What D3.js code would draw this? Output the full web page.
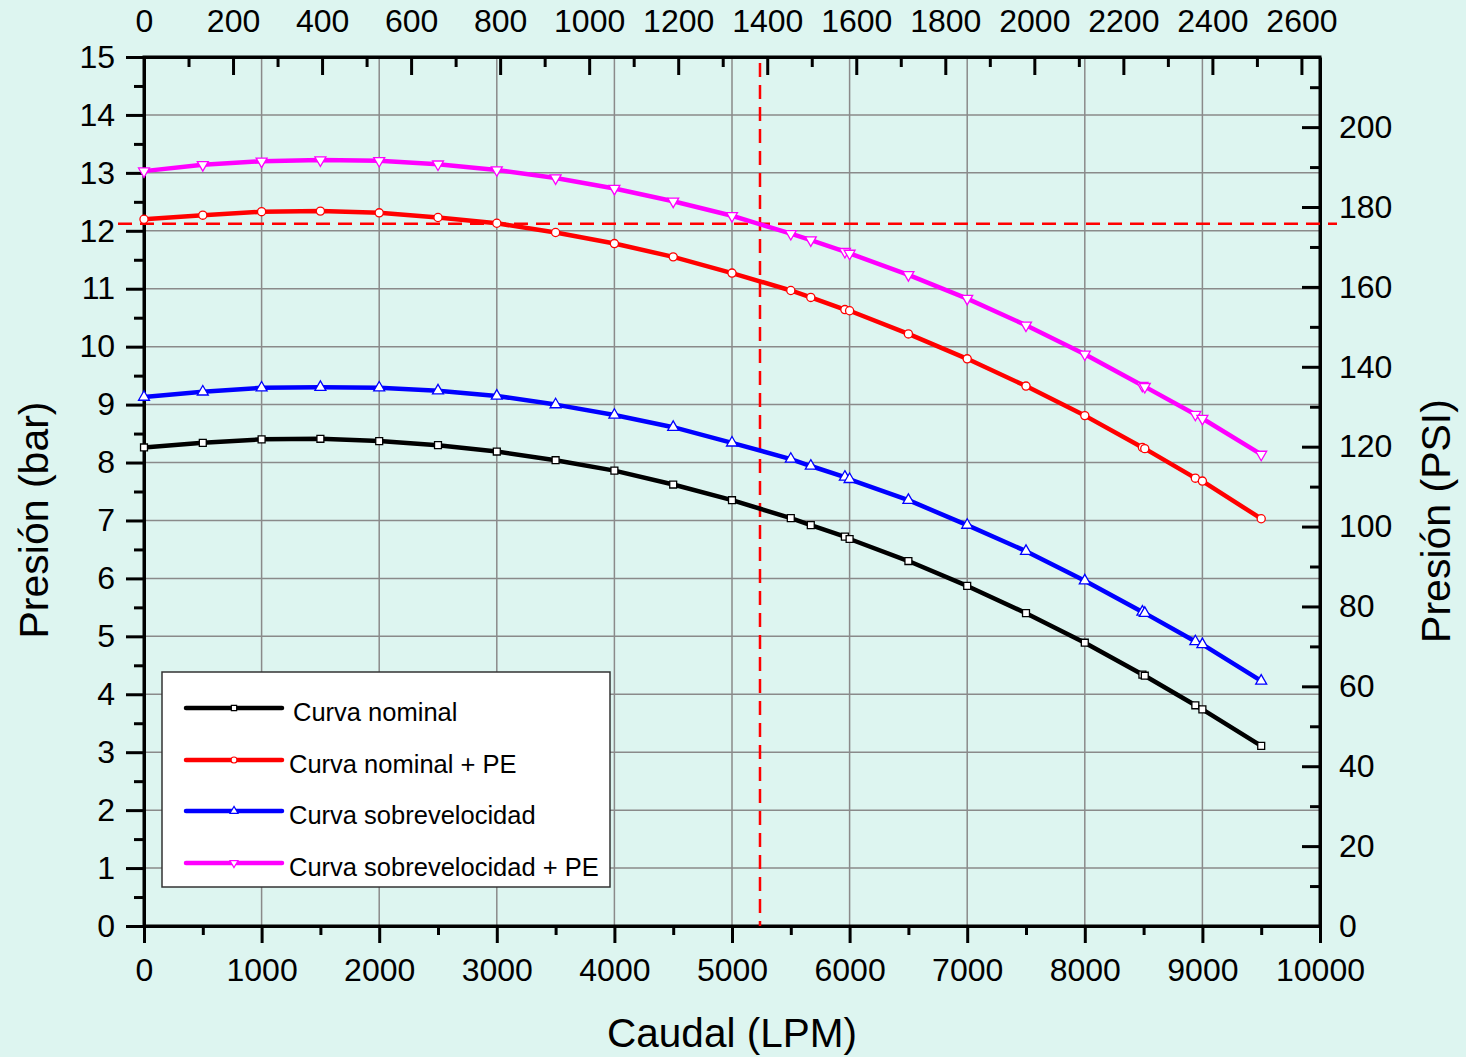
<!DOCTYPE html>
<html>
<head>
<meta charset="utf-8">
<script src="https://cdn.jsdelivr.net/npm/d3@7"></script>
<style>
  html, body { margin: 0; padding: 0; background: #ddf5f0; }
  #chart { width: 1466px; height: 1057px; }
  text { font-family: "Liberation Sans", Arial, sans-serif; fill: #000; }
</style>
</head>
<body>
<div id="chart"></div>
<script>
// caudal (LPM) en cada punto medido
const flowLPM = [0, 500, 1000, 1500, 2000, 2500, 3000, 3500, 4000, 4500, 5000, 5500,
    5670, 5960, 6000, 6500, 7000, 7500, 8000, 8490, 8510, 8940, 9000, 9500];

// presión (bar)
const nominal = [8.26, 8.34, 8.40, 8.41, 8.37, 8.30, 8.19, 8.04, 7.86, 7.62, 7.35, 7.04,
    6.92, 6.72, 6.68, 6.30, 5.87, 5.40, 4.89, 4.34, 4.32, 3.81, 3.74, 3.11];
const nominalPE = [12.20, 12.27, 12.33, 12.34, 12.31, 12.23, 12.13, 11.97, 11.78, 11.55, 11.27, 10.97,
    10.85, 10.64, 10.62, 10.22, 9.79, 9.32, 8.81, 8.26, 8.24, 7.73, 7.68, 7.03];
const sobre = [9.13, 9.22, 9.29, 9.30, 9.29, 9.24, 9.15, 9.00, 8.82, 8.61, 8.34, 8.06,
    7.94, 7.75, 7.71, 7.35, 6.92, 6.47, 5.96, 5.42, 5.40, 4.91, 4.86, 4.23];
const sobrePE = [13.03, 13.14, 13.20, 13.22, 13.21, 13.15, 13.05, 12.91, 12.73, 12.51, 12.26, 11.95,
    11.84, 11.64, 11.61, 11.24, 10.83, 10.37, 9.87, 9.33, 9.31, 8.83, 8.76, 8.14];

const seriesNames = ["Curva nominal", "Curva nominal + PE", "Curva sobrevelocidad", "Curva sobrevelocidad + PE"];
const seriesValues = [nominal, nominalPE, sobre, sobrePE];
const seriesColors = ["#000000", "#ff0000", "#0000ff", "#ff00ff"];
const seriesSymbols = ["square", "circle", "up", "down"];

// líneas de referencia
const refFlow = 5238;
const refPressure = 12.12;

const LPM_PER_GPM = 3.78541;
const PSI_PER_BAR = 14.5038;

const width = 1466, height = 1057;
const margin = {top: 57, right: 146, bottom: 131, left: 144};

const svg = d3.select("#chart").append("svg")
    .attr("width", width)
    .attr("height", height);

const x = d3.scaleLinear().domain([0, 10000]).range([margin.left, width - margin.right]);
const y = d3.scaleLinear().domain([0, 15]).range([height - margin.bottom, margin.top]);
const xTop = d3.scaleLinear().domain([0, 10000 / LPM_PER_GPM]).range(x.range());
const yRight = d3.scaleLinear().domain([0, 15 * PSI_PER_BAR]).range(y.range());

const fmt = d3.format("d");

// grid
const grid = svg.append("g").attr("stroke", "#8a8a8a").attr("stroke-width", 1.5);
grid.selectAll(".gx").data(d3.range(1000, 10000, 1000)).join("line")
    .attr("x1", d => x(d)).attr("x2", d => x(d))
    .attr("y1", y(0)).attr("y2", y(15));
grid.selectAll(".gy").data(d3.range(1, 15, 1)).join("line")
    .attr("y1", d => y(d)).attr("y2", d => y(d))
    .attr("x1", x(0)).attr("x2", x(10000));

function styleAxis(g) {
    g.attr("font-size", 32).attr("font-family", "Liberation Sans, Arial, sans-serif");
    g.selectAll("path.domain").attr("stroke-width", 3);
    g.selectAll("line").attr("stroke-width", 3);
}

// minor ticks
function minorTicks(axisFn, scale, values, size, transform) {
    svg.append("g").attr("transform", transform)
        .call(axisFn(scale).tickValues(values).tickSize(size).tickFormat("").tickSizeOuter(0))
        .call(g => g.select(".domain").remove())
        .call(g => g.selectAll("line").attr("stroke-width", 3));
}

const bottomY = y(0), topY = y(15), leftX = x(0), rightX = x(10000);

minorTicks(d3.axisBottom, x, d3.range(500, 10000, 1000), 9, `translate(0,${bottomY})`);
minorTicks(d3.axisLeft, y, d3.range(0.5, 15, 1), 10, `translate(${leftX},0)`);
minorTicks(d3.axisBottom, xTop, d3.range(100, 2700, 200), 10, `translate(0,${topY})`);
minorTicks(d3.axisLeft, yRight, d3.range(10, 220, 20), 10, `translate(${rightX},0)`);

// bottom axis
svg.append("g").attr("transform", `translate(0,${bottomY})`)
    .call(d3.axisBottom(x).tickValues(d3.range(0, 10001, 1000)).tickFormat(fmt)
        .tickSize(17).tickSizeOuter(0).tickPadding(15))
    .call(styleAxis);

// left axis
svg.append("g").attr("transform", `translate(${leftX},0)`)
    .call(d3.axisLeft(y).tickValues(d3.range(0, 16, 1)).tickFormat(fmt)
        .tickSize(18).tickSizeOuter(0).tickPadding(11))
    .call(styleAxis);

// top axis (GPM), ticks pointing inward
svg.append("g").attr("transform", `translate(0,${topY})`)
    .call(d3.axisTop(xTop).tickValues(d3.range(0, 2601, 200)).tickFormat(fmt)
        .tickSize(-18).tickSizeOuter(0).tickPadding(25))
    .call(styleAxis);

// right axis (PSI), ticks pointing inward
svg.append("g").attr("transform", `translate(${rightX},0)`)
    .call(d3.axisRight(yRight).tickValues(d3.range(0, 201, 20)).tickFormat(fmt)
        .tickSize(-18).tickSizeOuter(0).tickPadding(19))
    .call(styleAxis);

// frame
svg.append("rect")
    .attr("x", leftX).attr("y", topY)
    .attr("width", rightX - leftX).attr("height", bottomY - topY)
    .attr("fill", "none").attr("stroke", "#000").attr("stroke-width", 3);

// axis titles
svg.append("text")
    .attr("x", (leftX + rightX) / 2).attr("y", 1047)
    .attr("text-anchor", "middle").attr("font-size", 40.5)
    .text("Caudal (LPM)");
svg.append("text")
    .attr("transform", `translate(48,520) rotate(-90)`)
    .attr("text-anchor", "middle").attr("font-size", 41)
    .text("Presión (bar)");
svg.append("text")
    .attr("transform", `translate(1450,521) rotate(-90)`)
    .attr("text-anchor", "middle").attr("font-size", 41)
    .text("Presión (PSI)");

// dashed reference lines
svg.append("line")
    .attr("x1", 118).attr("x2", 1337)
    .attr("y1", y(refPressure)).attr("y2", y(refPressure))
    .attr("stroke", "#ff0000").attr("stroke-width", 2.5).attr("stroke-dasharray", "14,8");
svg.append("line")
    .attr("x1", x(refFlow)).attr("x2", x(refFlow))
    .attr("y1", 63).attr("y2", bottomY)
    .attr("stroke", "#ff0000").attr("stroke-width", 2.5).attr("stroke-dasharray", "14,8");

function symbolPath(kind, size) {
    if (kind === "square") return d3.symbol(d3.symbolSquare, size)();
    if (kind === "circle") return d3.symbol(d3.symbolCircle, size)();
    return d3.symbol(d3.symbolTriangle, size)();
}

const line = d3.line().x(d => x(d[0])).y(d => y(d[1]));

seriesValues.forEach((vals, i) => {
    const pts = flowLPM.map((f, j) => [f, vals[j]]);
    svg.append("path")
        .datum(pts)
        .attr("fill", "none")
        .attr("stroke", seriesColors[i])
        .attr("stroke-width", 4.5)
        .attr("stroke-linejoin", "round")
        .attr("d", line);
    svg.append("g").selectAll("path").data(pts).join("path")
        .attr("d", symbolPath(seriesSymbols[i], seriesSymbols[i] === "square" ? 48 : 52))
        .attr("transform", d => `translate(${x(d[0])},${y(d[1])})${seriesSymbols[i] === "down" ? " rotate(180)" : ""}`)
        .attr("fill", "#fff")
        .attr("stroke", seriesColors[i])
        .attr("stroke-width", 1.3);
});

// legend
const legend = svg.append("g");
legend.append("rect")
    .attr("x", 162).attr("y", 672).attr("width", 448).attr("height", 215)
    .attr("fill", "#fff").attr("stroke", "#333").attr("stroke-width", 1.5);

const legendY = [708, 760, 811, 863];
seriesNames.forEach((name, i) => {
    const ly = legendY[i];
    legend.append("line")
        .attr("x1", 186).attr("x2", 282).attr("y1", ly).attr("y2", ly)
        .attr("stroke", seriesColors[i]).attr("stroke-width", 4.5).attr("stroke-linecap", "round");
    legend.append("path")
        .attr("d", symbolPath(seriesSymbols[i], 28))
        .attr("transform", `translate(234,${ly})${seriesSymbols[i] === "down" ? " rotate(180)" : ""}`)
        .attr("fill", "#fff").attr("stroke", seriesColors[i]).attr("stroke-width", 1.2);
    legend.append("text")
        .attr("x", i === 0 ? 293 : 289).attr("y", ly + 13)
        .attr("font-size", 25.5)
        .text(name);
});
</script>
</body>
</html>
